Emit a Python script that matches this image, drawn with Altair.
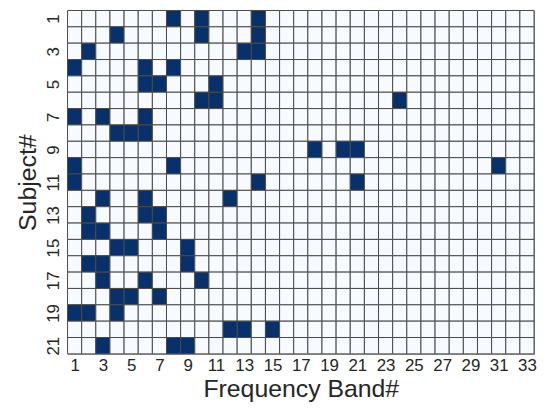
import altair as alt
import pandas as pd

subjects = list(range(1, 22))
bands = list(range(1, 34))
# selected frequency bands per subject (dark cells)
selected = {
    1: [8, 10, 14],
    2: [4, 10, 14],
    3: [2, 13, 14],
    4: [1, 6, 8],
    5: [6, 7, 11],
    6: [10, 11, 24],
    7: [1, 3, 6],
    8: [4, 5, 6],
    9: [18, 20, 21],
    10: [1, 8, 31],
    11: [1, 14, 21],
    12: [3, 6, 12],
    13: [2, 6, 7],
    14: [2, 3, 7],
    15: [4, 5, 9],
    16: [2, 3, 9],
    17: [3, 6, 10],
    18: [4, 5, 7],
    19: [1, 2, 4],
    20: [12, 13, 15],
    21: [3, 8, 9],
}

rows = []
for s in subjects:
    for b in bands:
        rows.append({"band": b, "subject": s,
                     "b0": b - 0.5, "b1": b + 0.5,
                     "s0": s - 0.5, "s1": s + 0.5,
                     "val": 1 if b in selected[s] else 0})
df = pd.DataFrame(rows)

font = "Liberation Sans"
txt = "#262626"
chart = alt.Chart(df).mark_rect(stroke="#4a4a4a", strokeWidth=1).encode(
    x=alt.X("b0:Q", scale=alt.Scale(domain=[0.5, 33.5], nice=False, zero=False),
            axis=alt.Axis(values=list(range(1, 34, 2)), title="Frequency Band#", grid=False,
                          ticks=False, domain=False, labelFontSize=17, titleFontSize=25,
                          labelColor=txt, titleColor=txt, labelFont=font, titleFont=font,
                          labelPadding=4, titlePadding=3, titleFontWeight="normal")),
    x2="b1:Q",
    y=alt.Y("s0:Q", scale=alt.Scale(domain=[0.5, 21.5], nice=False, zero=False, reverse=True),
            axis=alt.Axis(values=list(range(1, 22, 2)), title="Subject#", grid=False,
                          ticks=False, domain=False, labelFontSize=17, titleFontSize=25,
                          labelAngle=270, labelAlign="center", labelBaseline="bottom",
                          labelColor=txt, titleColor=txt, labelFont=font, titleFont=font,
                          labelPadding=5, titlePadding=4, titleFontWeight="normal")),
    y2="s1:Q",
    color=alt.Color("val:N", scale=alt.Scale(domain=[0, 1], range=["#f7fbff", "#08306b"]), legend=None),
).properties(width=470, height=346, padding={"left": 8, "top": 0, "right": 0, "bottom": 0}).configure_view(stroke="#888888")

chart.save("out.html", embed_options={"renderer": "svg", "actions": False})
